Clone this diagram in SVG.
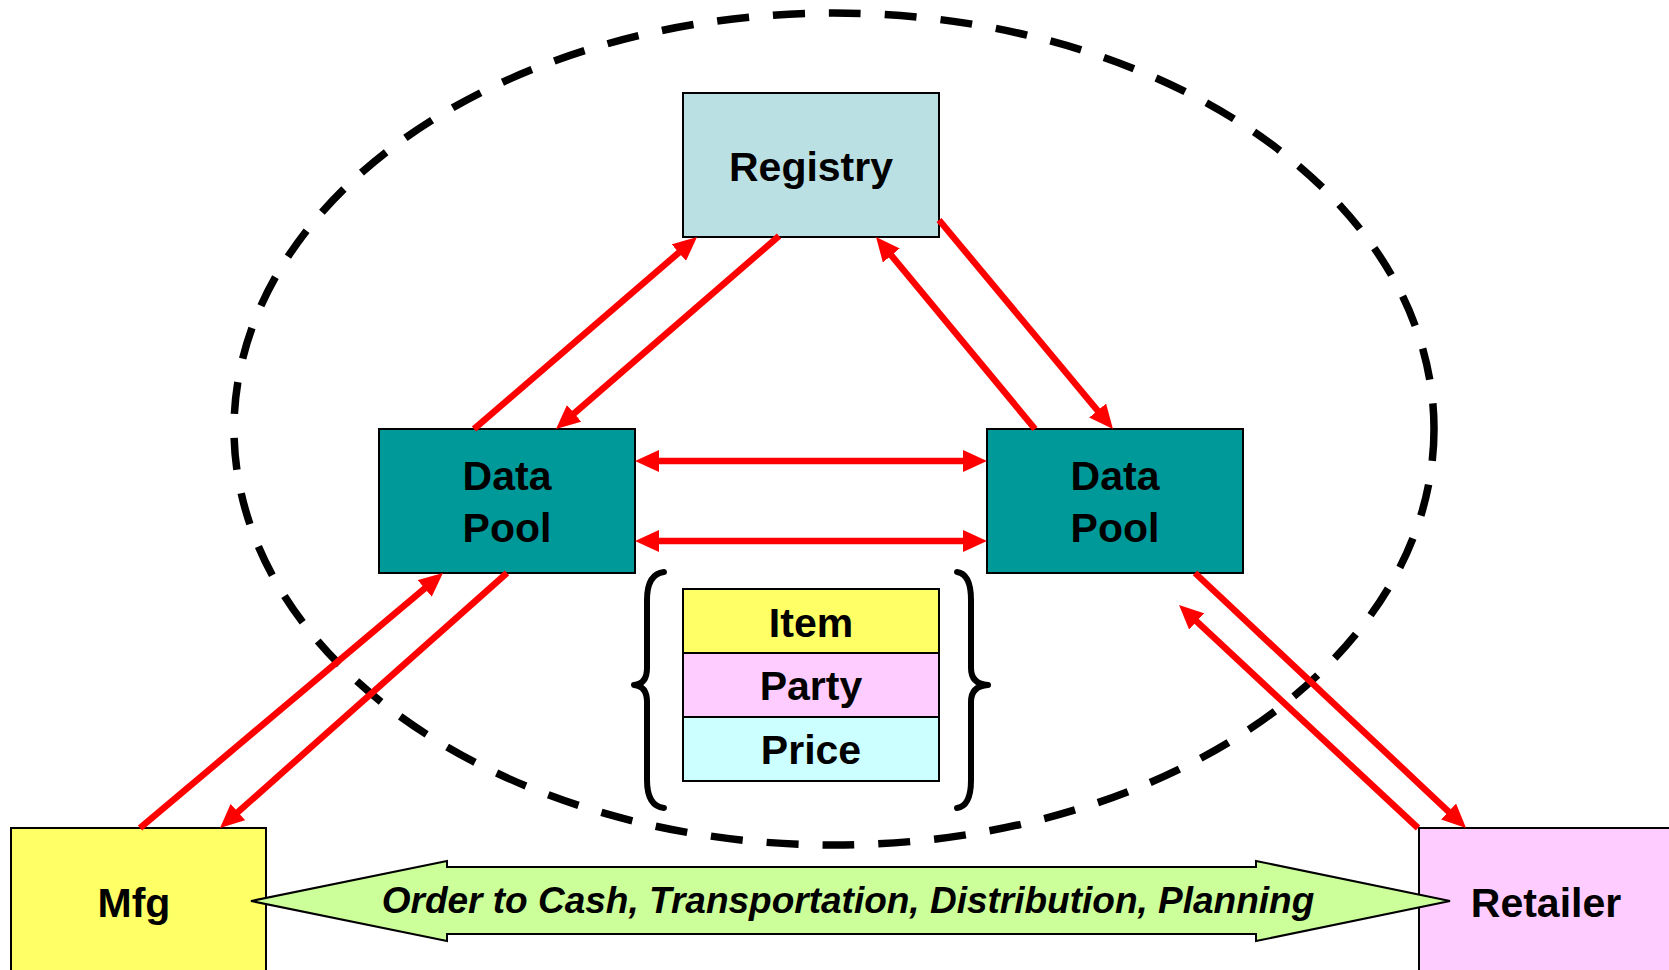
<svg xmlns="http://www.w3.org/2000/svg" width="1669" height="970" viewBox="0 0 1669 970">
<style>
.box{stroke:#000;stroke-width:2}
.lbl{font-family:"Liberation Sans",Arial,sans-serif;font-weight:bold;font-size:41px;fill:#000;text-anchor:middle}
.arr{stroke:#FF0000;stroke-width:6.5;fill:none}
.brace{stroke:#000;stroke-width:6;fill:none;stroke-linecap:round;stroke-linejoin:round}
</style>
<defs>
<marker id="ah" viewBox="0 0 24 22" refX="12" refY="11" markerWidth="24" markerHeight="22" markerUnits="userSpaceOnUse" orient="auto-start-reverse">
<path d="M0,0 L24,11 L0,22 z" fill="#FF0000"/>
</marker>
</defs>
<rect width="1669" height="970" fill="#fff"/>
<ellipse id="boundary" cx="834" cy="429" rx="600" ry="416" fill="none" stroke="#000" stroke-width="7.5" stroke-dasharray="32 24"/>
<g id="registry"><rect class="box" x="683" y="93" width="256" height="144" fill="#BBE0E3"/><text class="lbl" x="811" y="181">Registry</text></g>
<g id="datapool-left"><rect class="box" x="379" y="429" width="256" height="144" fill="#009999"/><text class="lbl" x="507" y="490">Data</text><text class="lbl" x="507" y="542">Pool</text></g>
<g id="datapool-right"><rect class="box" x="987" y="429" width="256" height="144" fill="#009999"/><text class="lbl" x="1115" y="490">Data</text><text class="lbl" x="1115" y="542">Pool</text></g>
<g id="item"><rect class="box" x="683" y="589" width="256" height="64" fill="#FFFF66"/><text class="lbl" x="811" y="637">Item</text></g>
<g id="party"><rect class="box" x="683" y="653" width="256" height="64" fill="#FFCCFF"/><text class="lbl" x="811" y="700">Party</text></g>
<g id="price"><rect class="box" x="683" y="717" width="256" height="64" fill="#CCFFFF"/><text class="lbl" x="811" y="764">Price</text></g>
<g id="braces">
<path class="brace" d="M664,572 Q647,574 647,600 L647,668 Q647,684 634,685 Q647,686 647,702 L647,780 Q647,806 664,808"/>
<path class="brace" d="M957,572 Q971,574 971,600 L971,668 Q971,684 988,685 Q971,686 971,702 L971,780 Q971,806 957,808"/>
</g>
<g id="mfg"><rect class="box" x="11" y="828" width="255" height="160" fill="#FFFF66"/><text class="lbl" x="134" y="917">Mfg</text></g>
<g id="retailer"><rect class="box" x="1419" y="828" width="270" height="160" fill="#FFCCFF"/><text class="lbl" x="1546" y="917">Retailer</text></g>
<g id="process-arrow">
<polygon points="251,901 447,861 447,867 1256,867 1256,861 1450,901 1256,941 1256,934 447,934 447,941" fill="#CCFF99" stroke="#000" stroke-width="2"/>
<text x="848" y="913" font-family="Liberation Sans, Arial, sans-serif" font-weight="bold" font-style="italic" font-size="37" text-anchor="middle">Order to Cash, Transportation, Distribution, Planning</text>
</g>
<g id="connectors">
<line class="arr" x1="474" y1="429" x2="687.9" y2="244.8" marker-end="url(#ah)"/>
<line class="arr" x1="779" y1="236" x2="565.1" y2="421.2" marker-end="url(#ah)"/>
<line class="arr" x1="1035" y1="429" x2="883.7" y2="246.2" marker-end="url(#ah)"/>
<line class="arr" x1="939" y1="220" x2="1105.3" y2="419.8" marker-end="url(#ah)"/>
<line class="arr" x1="647" y1="461" x2="975" y2="461" marker-start="url(#ah)" marker-end="url(#ah)"/>
<line class="arr" x1="647" y1="541" x2="975" y2="541" marker-start="url(#ah)" marker-end="url(#ah)"/>
<line class="arr" x1="140" y1="828" x2="433.8" y2="580.7" marker-end="url(#ah)"/>
<line class="arr" x1="507" y1="573" x2="229" y2="820" marker-end="url(#ah)"/>
<line class="arr" x1="1195" y1="573" x2="1457.3" y2="819.8" marker-end="url(#ah)"/>
<line class="arr" x1="1418" y1="828" x2="1187.8" y2="613.2" marker-end="url(#ah)"/>
</g>
</svg>
